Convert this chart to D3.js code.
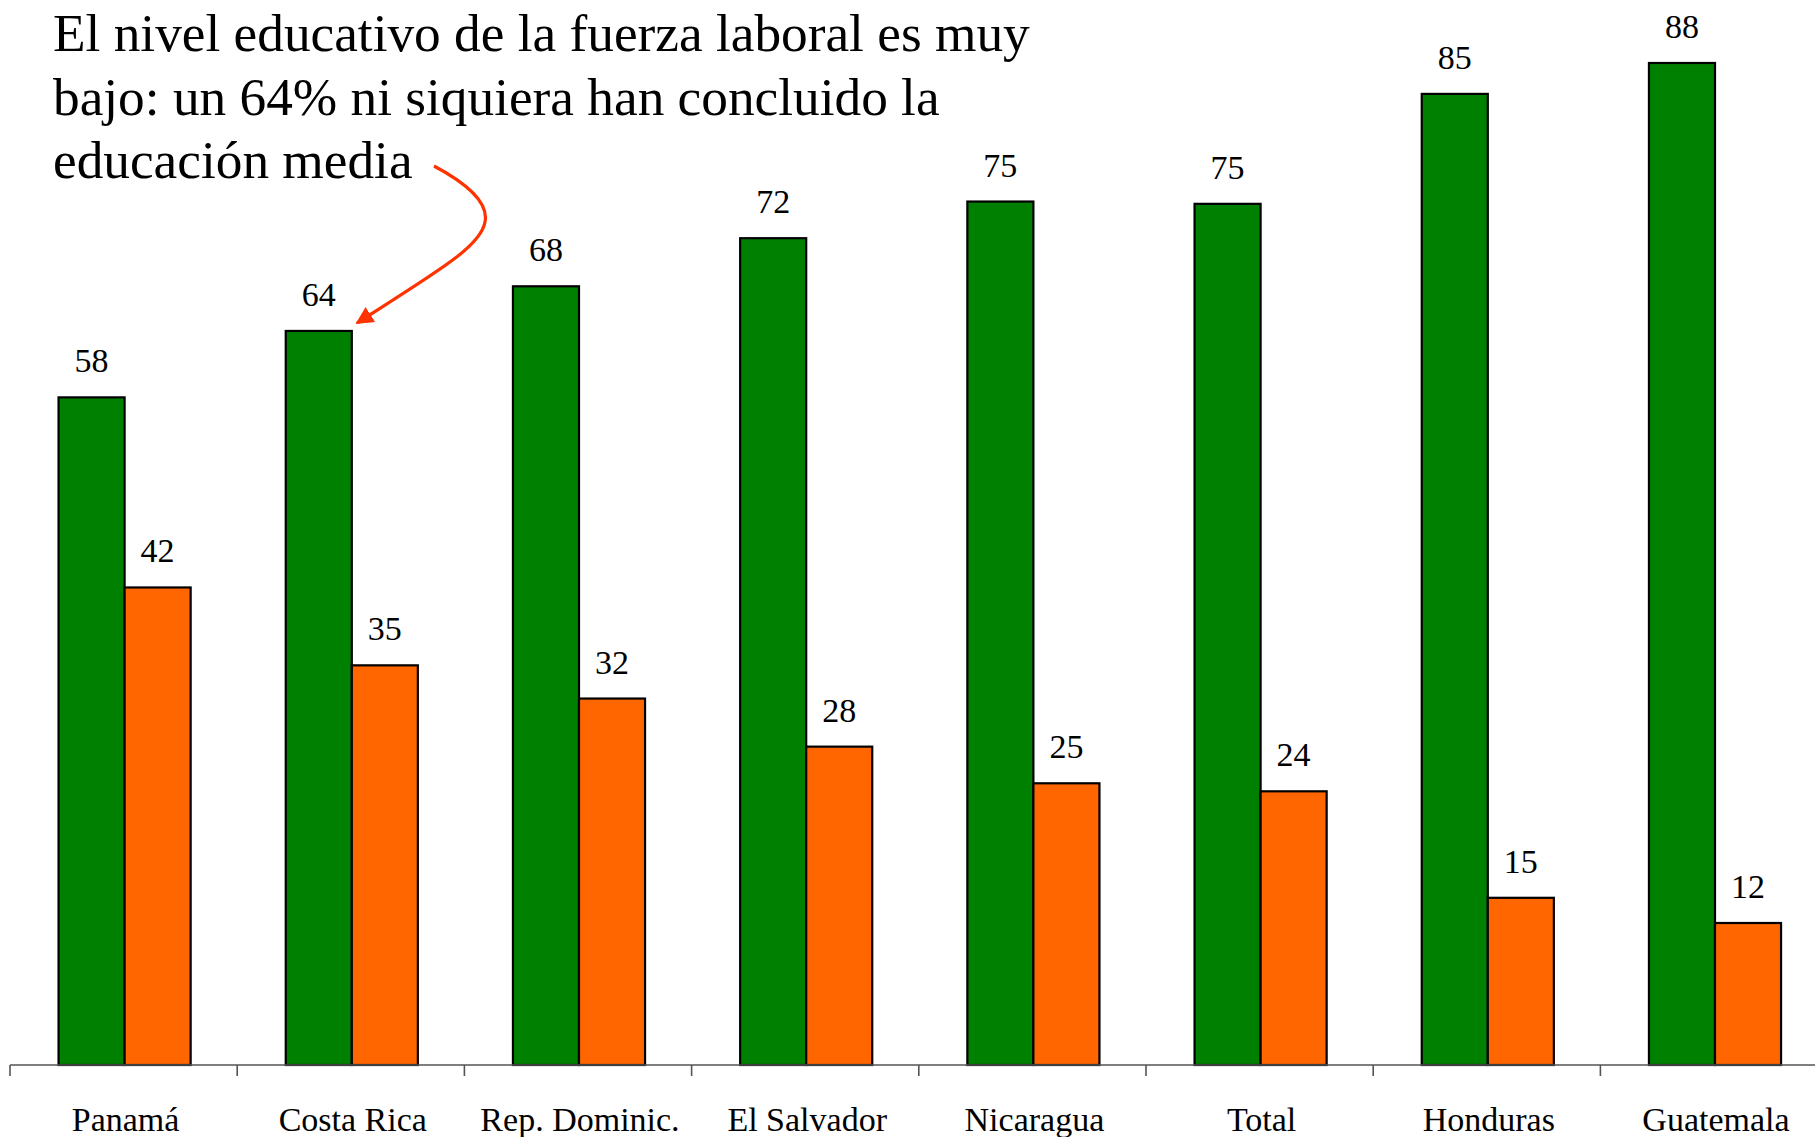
<!DOCTYPE html>
<html>
<head>
<meta charset="utf-8">
<script src="https://cdn.jsdelivr.net/npm/d3@7"></script>
<style>
  html, body { margin: 0; padding: 0; background: #ffffff; }
  svg { display: block; }
  text { font-family: "Liberation Serif", "Times New Roman", serif; fill: #000; }
</style>
</head>
<body>
<svg id="chart" width="1815" height="1137"></svg>
<script>
// ---- data ----
const categories = ["Panamá", "Costa Rica", "Rep. Dominic.", "El Salvador", "Nicaragua", "Total", "Honduras", "Guatemala"];
const seriesNames = ["Sin educación media", "Con educación media"];
const lowEducation = [58.3, 64.1, 68.0, 72.2, 75.4, 75.2, 84.8, 87.5];
const highEducation = [41.7, 34.9, 32.0, 27.8, 24.6, 23.9, 14.6, 12.4];
const valueLabels1 = ["58", "64", "68", "72", "75", "75", "85", "88"];
const valueLabels2 = ["42", "35", "32", "28", "25", "24", "15", "12"];
const titleLines = ["El nivel educativo de la fuerza laboral es muy", "bajo: un 64% ni siquiera han concluido la", "educación media"];
const colors = ["#008000", "#FF6600"];

// ---- layout ----
const svg = d3.select("#chart");
const baseY = 1065;
const x0 = d3.scaleBand().domain(categories).range([10, 10 + 8 * 227.2]).padding(0);
const x1 = d3.scaleBand().domain(seriesNames).range([0, x0.bandwidth()]).paddingInner(0).paddingOuter(0.72);
const y = d3.scaleLinear().domain([0, 93]).range([baseY, 0]);

const rows = categories.map((c, i) => ({
  cat: c,
  vals: [
    { s: seriesNames[0], v: lowEducation[i], label: valueLabels1[i], color: colors[0] },
    { s: seriesNames[1], v: highEducation[i], label: valueLabels2[i], color: colors[1] }
  ]
}));

const groups = svg.append("g").selectAll("g").data(rows).join("g")
  .attr("transform", d => `translate(${x0(d.cat) + 1},0)`);

groups.selectAll("rect").data(d => d.vals).join("rect")
  .attr("x", d => x1(d.s))
  .attr("y", d => y(d.v))
  .attr("width", x1.bandwidth())
  .attr("height", d => baseY - y(d.v))
  .attr("fill", d => d.color)
  .attr("stroke", "#000")
  .attr("stroke-width", 2.2);

groups.selectAll("text.val").data(d => d.vals).join("text")
  .attr("class", "val")
  .attr("x", d => x1(d.s) + x1.bandwidth() / 2)
  .attr("y", d => y(d.v) - 25)
  .attr("text-anchor", "middle")
  .style("font-size", "34px")
  .text(d => d.label);

// ---- axis ----
const axis = svg.append("g");
axis.append("line")
  .attr("x1", x0.range()[0]).attr("x2", 1815)
  .attr("y1", baseY).attr("y2", baseY)
  .attr("stroke", "#555").attr("stroke-width", 1.6);
axis.selectAll("line.tick").data(categories).join("line")
  .attr("class", "tick")
  .attr("x1", d => x0(d)).attr("x2", d => x0(d))
  .attr("y1", baseY).attr("y2", baseY + 11)
  .attr("stroke", "#555").attr("stroke-width", 1.6);
axis.selectAll("text").data(categories).join("text")
  .attr("x", d => x0(d) + x0.bandwidth() / 2 + 2)
  .attr("y", 1131)
  .attr("text-anchor", "middle")
  .style("font-size", "34px")
  .text(d => d);

// ---- title annotation ----
svg.append("g").selectAll("text").data(titleLines).join("text")
  .attr("x", 53)
  .attr("y", (d, i) => 51 + i * 63.7)
  .style("font-size", "53.3px")
  .text(d => d);

// ---- arrow ----
const defs = svg.append("defs");
defs.append("marker")
  .attr("id", "arrowhead")
  .attr("viewBox", "0 0 10 10")
  .attr("refX", 9).attr("refY", 5)
  .attr("markerWidth", 5.5).attr("markerHeight", 5.5)
  .attr("markerUnits", "strokeWidth")
  .attr("orient", "auto")
  .append("path").attr("d", "M0,0 L10,5 L0,10 Z").attr("fill", "#FF3300");

svg.append("path")
  .attr("d", "M434,166 C466,183 489,202 485,222 C481,246 440,270 357,323")
  .attr("fill", "none")
  .attr("stroke", "#FF3300")
  .attr("stroke-width", 3.2)
  .attr("marker-end", "url(#arrowhead)");
</script>
</body>
</html>
